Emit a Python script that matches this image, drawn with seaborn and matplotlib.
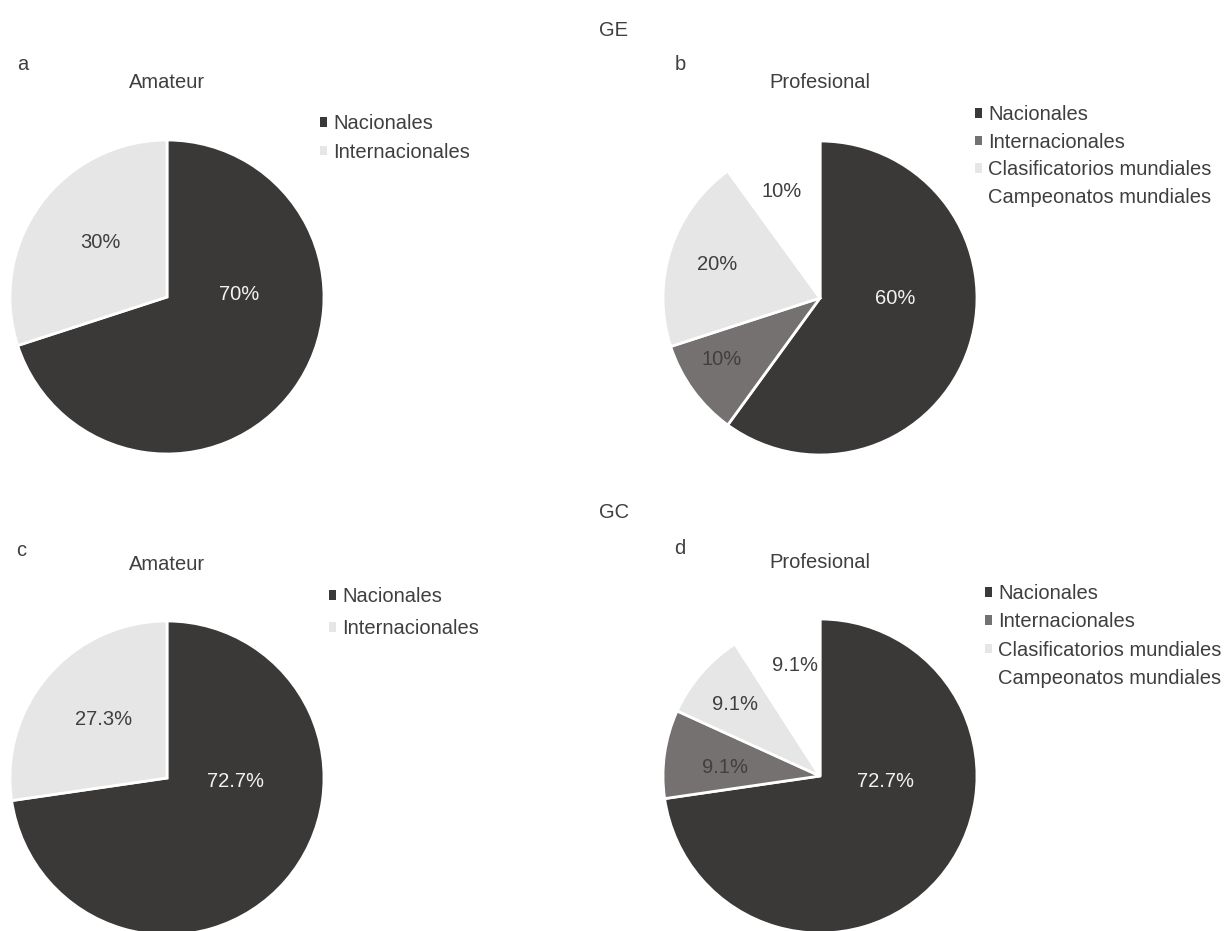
import matplotlib
matplotlib.use("Agg")
import numpy as np
import matplotlib.pyplot as plt
import seaborn as sns
from matplotlib.patches import Patch

sns.set_theme(style="white")
plt.rcParams["font.family"] = ["Liberation Sans", "DejaVu Sans"]

# ---- data -------------------------------------------------------------
amateur_cats = ["Nacionales", "Internacionales"]
pro_cats = ["Nacionales", "Internacionales",
            "Clasificatorios mundiales", "Campeonatos mundiales"]

ge_amateur = [70, 30]
ge_pro = [60, 10, 20, 10]
gc_amateur = [72.7, 27.3]
gc_pro = [72.7, 9.1, 9.1, 9.1]

group_titles = ["GE", "GC"]
panel_letters = ["a", "b", "c", "d"]
panel_titles = ["Amateur", "Profesional", "Amateur", "Profesional"]

# ---- style ------------------------------------------------------------
dark, mid, light, white = "#3b3838", "#767171", "#e7e6e6", "#ffffff"
amateur_palette = sns.color_palette([dark, light])
pro_palette = sns.color_palette([dark, mid, light, white])
text_grey = "#3f3f3f"
FS = 14.5

W, H = 1226, 931
fig = plt.figure(figsize=(W / 100, H / 100), dpi=100)


def px_rect(cx, cy, r):
    return [(cx - r) / W, 1 - (cy + r) / H, 2 * r / W, 2 * r / H]


def draw_pie(cx, cy, r, values, cats, colors, fmt, label_pos, title,
             title_y, letter, legend_xy, legend_gap):
    ax = fig.add_axes(px_rect(cx, cy, r))
    wedges, _, autotexts = ax.pie(
        values, colors=colors, startangle=90, counterclock=False,
        autopct=fmt, radius=1.0,
        wedgeprops=dict(edgecolor="white", linewidth=2),
        textprops=dict(fontsize=FS, color=text_grey),
    )
    for w in wedges:
        w.set_clip_on(False)
    for i, (t, (ang, dist)) in enumerate(zip(autotexts, label_pos)):
        a = np.deg2rad(ang)
        t.set_position((dist * np.cos(a), dist * np.sin(a)))
        t.set_ha("center")
        t.set_va("center")
        t.set_color("#f2f2f2" if i == 0 else text_grey)
    ax.set_xlim(-1, 1)
    ax.set_ylim(-1, 1)
    ax.set_aspect("equal")
    ax.axis("off")

    fig.text(cx / W, 1 - title_y / H, title,
             ha="center", va="center", fontsize=FS, color=text_grey)
    fig.text(letter[1] / W, 1 - letter[2] / H, letter[0],
             ha="center", va="center", fontsize=FS, color=text_grey)

    handles = [Patch(facecolor=c, edgecolor="none") for c in colors]
    fig.legend(handles, cats, loc="upper left",
               bbox_to_anchor=(legend_xy[0] / W, 1 - legend_xy[1] / H),
               frameon=False, fontsize=FS, labelcolor=text_grey,
               handlelength=0.35, handleheight=0.35, handletextpad=0.3,
               labelspacing=legend_gap, borderpad=0, borderaxespad=0)


R = 157
draw_pie(167, 297, R, ge_amateur, amateur_cats, amateur_palette, "%.0f%%",
         [(2, 0.46), (141, 0.55)], panel_titles[0], 83,
         (panel_letters[0], 23, 65), (320, 114), 0.48)
draw_pie(820, 298, R, ge_pro, pro_cats, pro_palette, "%.0f%%",
         [(0, 0.48), (212, 0.74), (162, 0.69), (110, 0.72)], panel_titles[1], 83,
         (panel_letters[1], 680, 65), (975, 105), 0.43)
draw_pie(167, 778, R, gc_amateur, amateur_cats, amateur_palette, "%.1f%%",
         [(-3, 0.44), (137, 0.55)], panel_titles[2], 565,
         (panel_letters[2], 21, 550), (329, 587), 0.66)
draw_pie(820, 776, R, gc_pro, pro_cats, pro_palette, "%.1f%%",
         [(-5, 0.42), (175, 0.61), (140, 0.71), (103, 0.72)], panel_titles[3], 563,
         (panel_letters[3], 680, 548), (985, 584), 0.46)

fig.text(614 / W, 1 - 30 / H, group_titles[0], ha="center", va="center",
         fontsize=FS, color=text_grey)
fig.text(614 / W, 1 - 513 / H, group_titles[1], ha="center", va="center",
         fontsize=FS, color=text_grey)

fig.savefig("out.png", dpi=100, facecolor="white")
